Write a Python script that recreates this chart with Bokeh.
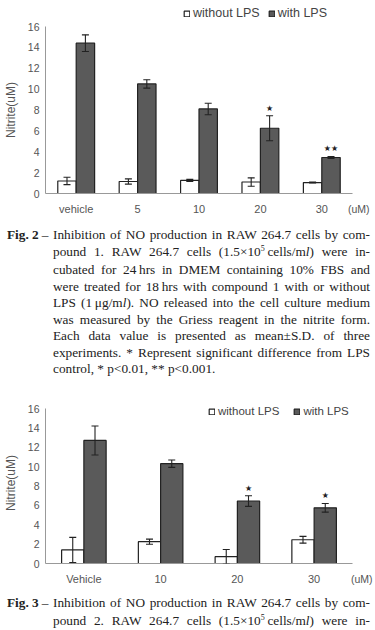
from bokeh.plotting import figure
from bokeh.models import (FactorRange, Range1d, ColumnDataSource, Whisker, TeeHead,
                          Legend, LegendItem, Title, Div, FixedTicker)
from bokeh.layouts import column
from bokeh.transform import dodge
from bokeh.embed import file_html
from bokeh.resources import INLINE
from bokeh.core.properties import value

# ---------------- data: Fig. 2 (compound 1) ----------------
cats1 = ["vehicle", "5", "10", "20", "30"]
without1 = [1.2, 1.15, 1.25, 1.1, 1.05]
without1_sd = [0.35, 0.25, 0.1, 0.4, 0.05]
with1 = [14.4, 10.5, 8.1, 6.25, 3.45]
with1_sd = [0.8, 0.4, 0.55, 1.2, 0.1]
marks1 = ["", "", "", "\u2605", "\u2605\u2605"]

# ---------------- data: Fig. 3 (compound 2) ----------------
cats2 = ["Vehicle", "10", "20", "30"]
without2 = [1.4, 2.25, 0.7, 2.45]
without2_sd = [1.3, 0.27, 0.75, 0.35]
with2 = [12.7, 10.3, 6.45, 5.75]
with2_sd = [1.5, 0.38, 0.55, 0.45]
marks2 = ["", "", "\u2605", "\u2605"]

y_ticks = [0, 2, 4, 6, 8, 10, 12, 14, 16]
y_axis_max = 16
series_labels = ["without LPS", "with LPS"]
unit_label = "(uM)"
y_title = "Nitrite(uM)"

SUP5 = "<span style=\"font-size:8px;position:relative;top:-5px\">5</span>"
caption1_label = "Fig. 2"
caption1_lines = [
    "Inhibition of NO production in RAW 264.7 cells by com-",
    "pound 1. RAW 264.7 cells (1.5\u00d710" + SUP5 + "\u2009cells/m<i>l</i>) were in-",
    "cubated for 24\u2009hrs in DMEM containing 10% FBS and",
    "were treated for 18\u2009hrs with compound 1 with or without",
    "LPS (1\u2009\u03bcg/m<i>l</i>). NO released into the cell culture medium",
    "was measured by the Griess reagent in the nitrite form.",
    "Each data value is presented as mean\u00b1S.D. of three",
    "experiments. * Represent significant difference from LPS",
    "control, * p&lt;0.01, ** p&lt;0.001.",
]
caption2_label = "Fig. 3"
caption2_lines = [
    "Inhibition of NO production in RAW 264.7 cells by com-",
    "pound 2. RAW 264.7 cells (1.5\u00d710" + SUP5 + "\u2009cells/m<i>l</i>) were in-",
]

DARK = "#5a5a5a"
INK = "#222222"
GRAY_TXT = "#555555"


def make_chart(cats, wo, wo_sd, wi, wi_sd, marks, height, b_left, b_right, b_top, b_bottom,
               y_end, half, legend_side, legend_loc, legend_pad, legend_spacing, legend_font,
               unit_offset):
    src = ColumnDataSource(dict(
        cat=cats, wo=wo, wi=wi,
        wo_hi=[a + b for a, b in zip(wo, wo_sd)], wo_lo=[a - b for a, b in zip(wo, wo_sd)],
        wi_hi=[a + b for a, b in zip(wi, wi_sd)], wi_lo=[a - b for a, b in zip(wi, wi_sd)],
        mark=marks,
    ))
    p = figure(x_range=FactorRange(*cats, range_padding=0), y_range=Range1d(0, y_end),
               width=375, height=height, output_backend="svg", toolbar_location=None,
               min_border_left=b_left, min_border_right=b_right,
               min_border_top=b_top, min_border_bottom=b_bottom,
               outline_line_color=None, background_fill_color="white", margin=0)
    p.title.visible = False
    p.xgrid.grid_line_color = None
    p.ygrid.grid_line_color = None

    r_wo = p.vbar(x=dodge("cat", -half, range=p.x_range), top="wo", width=2 * half, source=src,
                  fill_color="white", line_color=INK, line_width=1.2)
    r_wi = p.vbar(x=dodge("cat", half, range=p.x_range), top="wi", width=2 * half, source=src,
                  fill_color=DARK, line_color=INK, line_width=1.2)

    for off, hi, lo in ((-half, "wo_hi", "wo_lo"), (half, "wi_hi", "wi_lo")):
        w = Whisker(base=dodge("cat", off, range=p.x_range), upper=hi, lower=lo, source=src,
                    line_color=INK, line_width=1.1, level="overlay",
                    upper_head=TeeHead(size=7, line_color=INK, line_width=1.1),
                    lower_head=TeeHead(size=7, line_color=INK, line_width=1.1))
        p.add_layout(w)

    p.text(x=dodge("cat", half, range=p.x_range), y="wi_hi", text="mark", source=src,
           text_align="center", text_baseline="bottom", y_offset=-3,
           text_font=value("DejaVu Sans"), text_font_size="8px", text_color=INK)

    for ax in (p.xaxis[0], p.yaxis[0]):
        ax.axis_line_color = "#999999"
        ax.axis_line_width = 1
        ax.major_tick_line_color = None
        ax.minor_tick_line_color = None
        ax.major_tick_out = 0
        ax.minor_tick_out = 0
        ax.major_tick_in = 0
        ax.minor_tick_in = 0
        ax.major_label_text_color = GRAY_TXT
        ax.major_label_text_font = "Liberation Sans"
    p.xaxis.major_label_text_font_size = "11px"
    p.xaxis.major_label_standoff = 9
    p.yaxis.major_label_text_font_size = "10.5px"
    p.yaxis.major_label_standoff = 6
    p.yaxis.ticker = FixedTicker(ticks=y_ticks)
    p.yaxis.bounds = (0, y_axis_max)
    p.yaxis.axis_label = y_title
    p.yaxis.axis_label_text_font = "Liberation Sans"
    p.yaxis.axis_label_text_font_style = "normal"
    p.yaxis.axis_label_text_font_size = "12px"
    p.yaxis.axis_label_text_color = GRAY_TXT
    p.yaxis.axis_label_standoff = 7

    legend = Legend(items=[LegendItem(label=series_labels[0], renderers=[r_wo]),
                           LegendItem(label=series_labels[1], renderers=[r_wi])],
                    orientation="horizontal", location=legend_loc,
                    glyph_width=7, glyph_height=7, label_standoff=3, spacing=legend_spacing,
                    padding=legend_pad, margin=0, border_line_color=None,
                    background_fill_alpha=0,
                    label_text_font="Liberation Sans", label_text_font_size=legend_font,
                    label_text_color="#444444", label_height=12)
    p.add_layout(legend, legend_side)

    # unit of the x axis, at the right end of the tick-label row
    p.add_layout(Title(text=unit_label, align="right", offset=unit_offset, standoff=-30,
                       vertical_align="top", text_font="Liberation Sans",
                       text_font_size="10.5px", text_font_style="normal",
                       text_color=GRAY_TXT), "below")
    return p


def caption(label, lines, height, line_h, pad_top):
    rows = []
    for i, ln in enumerate(lines):
        last = (i == len(lines) - 1) and len(lines) > 2
        align = "left" if last else "justify"
        if i == 0:
            rows.append(
                f'<div style="margin-left:-46px;text-align:{align};text-align-last:{align}">'
                f'<span style="display:inline-block;width:46px;text-align:left;text-align-last:left">'
                f'<b>{label}</b><span style="margin-left:3px">\u2013</span></span>{ln}</div>')
        else:
            rows.append(f'<div style="text-align:{align};text-align-last:{align}">{ln}</div>')
    html = (f'<div style="font-family:\'Liberation Serif\',serif;font-size:13.3px;color:#222;'
            f'line-height:{line_h}px;box-sizing:content-box;padding:{pad_top}px 5px 0 53px;width:317px;">'
            + "".join(rows) + "</div>")
    return Div(text=html, width=375, height=height, margin=0)


# chart 1: frame = canvas x 43..358, y 26..193 (0..16); legend in the band above the frame
p1 = make_chart(cats1, without1, without1_sd, with1, with1_sd, marks1, height=225,
                b_left=43, b_right=17, b_top=26, b_bottom=32, y_end=16, half=0.15,
                legend_side="above", legend_loc=(138, 0), legend_pad=7, legend_spacing=8,
                legend_font="12.5px", unit_offset=-17)
d1 = caption(caption1_label, caption1_lines, 160, 16.5, 2)
# chart 2: frame = canvas x 42..352, y 402..563 (value 16 at y=408); legend inside frame
p2 = make_chart(cats2, without2, without2_sd, with2, with2_sd, marks2, height=209,
                b_left=42, b_right=23, b_top=17, b_bottom=31, y_end=16.62, half=0.145,
                legend_side="center", legend_loc=(163, 146), legend_pad=0, legend_spacing=14,
                legend_font="11.5px", unit_offset=-20)
d2 = caption(caption2_label, caption2_lines, 36, 18, 0)

layout = column(p1, d1, p2, d2, spacing=0, margin=0)
open("out.html", "w").write(file_html(layout, INLINE))
